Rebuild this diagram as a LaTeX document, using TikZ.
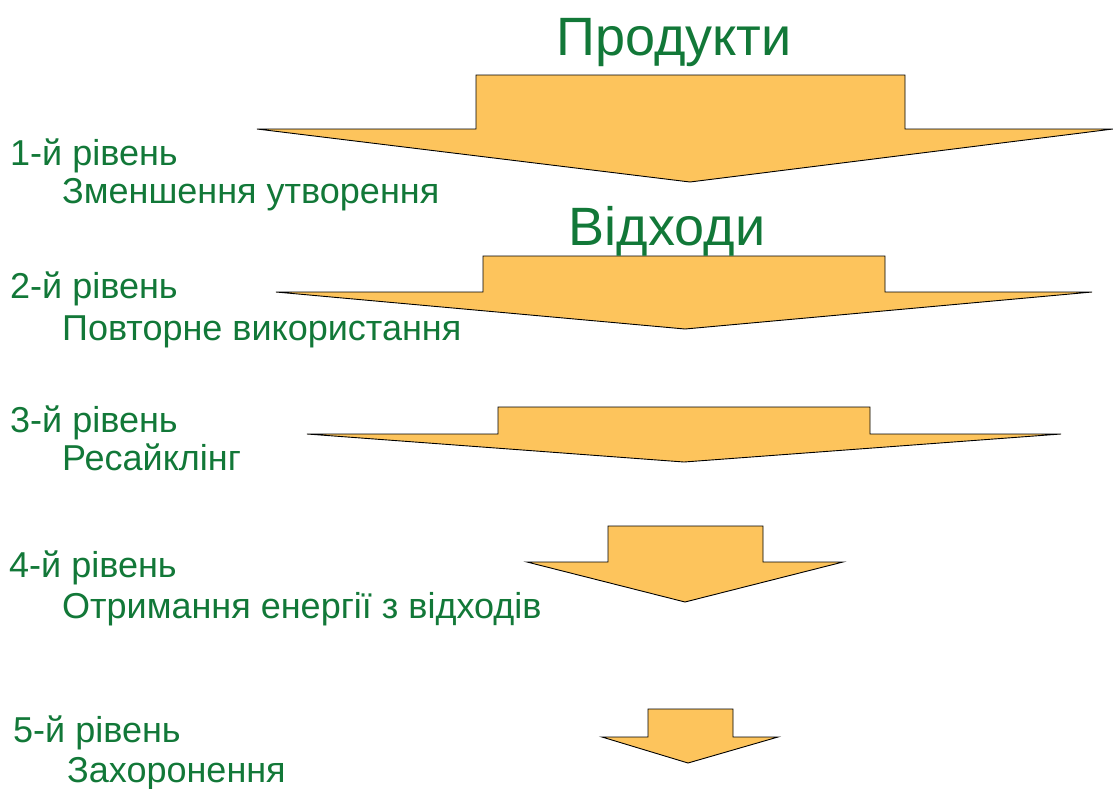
\documentclass[tikz,border=0pt]{standalone}
\usepackage{fontspec}
\setmainfont{Liberation Sans}
\definecolor{txtgreen}{RGB}{18,120,56}
\definecolor{arrowfill}{RGB}{253,196,92}
\begin{document}
\begin{tikzpicture}[x=1pt,y=-1pt,
  bigarrow/.style={draw=black,line width=0.9pt,fill=arrowfill,line join=miter},
  title/.style={anchor=base,inner sep=0pt,text=txtgreen,font=\fontsize{54}{60}\selectfont},
  lvl/.style={anchor=base west,inner sep=0pt,text=txtgreen,font=\fontsize{36}{40}\selectfont}]
\useasboundingbox (0,0) rectangle (1113,788);
% arrows
\draw[bigarrow] (476,75) -- (905,75) -- (905,129) -- (1113,129) -- (690,182) -- (257,129) -- (476,129) -- cycle;
\draw[bigarrow] (483,256) -- (885,256) -- (885,292) -- (1092,292) -- (685,329) -- (276,292) -- (483,292) -- cycle;
\draw[bigarrow] (498,407) -- (870,407) -- (870,434) -- (1061,434) -- (684,462) -- (307,434) -- (498,434) -- cycle;
\draw[bigarrow] (608,526) -- (763,526) -- (763,562) -- (843,562) -- (685,602) -- (527,562) -- (608,562) -- cycle;
\draw[bigarrow] (648,709) -- (733,709) -- (733,737) -- (778,737) -- (688,763) -- (602,737) -- (648,737) -- cycle;
% titles
\node[title] (prod) at (674,55) {Продукти};
\node[title] (vidh) at (667,245) {Відходи};
% levels
\node[lvl] (l1) at (10,165) {1-й рівень};
\node[lvl] (d1) at (62,203) {Зменшення утворення};
\node[lvl] (l2) at (10,298) {2-й рівень};
\node[lvl] (d2) at (62,340) {Повторне використання};
\node[lvl] (l3) at (10,432) {3-й рівень};
\node[lvl] (d3) at (62,470) {Ресайклінг};
\node[lvl] (l4) at (9,577) {4-й рівень};
\node[lvl] (d4) at (62,618) {Отримання енергії з відходів};
\node[lvl] (l5) at (13,742) {5-й рівень};
\node[lvl] (d5) at (67,782) {Захоронення};
\end{tikzpicture}
\end{document}
